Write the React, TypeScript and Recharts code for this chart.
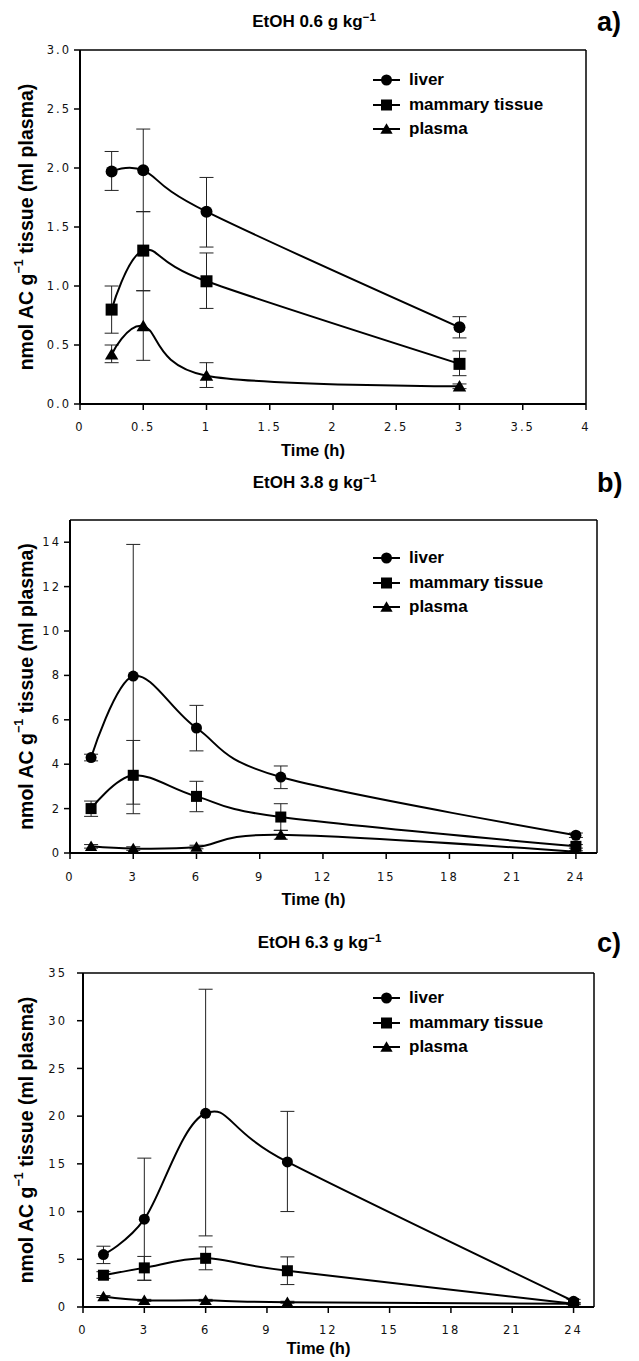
import React from 'react';
import { LineChart, Line, XAxis, YAxis, ErrorBar, ReferenceLine, Legend } from 'recharts';

// ---------- data ----------
const seriesNames = ['liver', 'mammary tissue', 'plasma'];

// Panel a) EtOH 0.6 g/kg
const timesA = [0.25, 0.5, 1, 3];
const liverA = [1.97, 1.98, 1.63, 0.65];
const liverLoA = [1.81, 1.63, 1.33, 0.56];
const liverHiA = [2.14, 2.33, 1.92, 0.74];
const mammaryA = [0.8, 1.3, 1.04, 0.34];
const mammaryLoA = [0.6, 0.96, 0.81, 0.24];
const mammaryHiA = [1.0, 1.63, 1.28, 0.45];
const plasmaA = [0.42, 0.66, 0.24, 0.15];
const plasmaLoA = [0.35, 0.37, 0.14, 0.13];
const plasmaHiA = [0.5, 0.96, 0.35, 0.17];
const xTicksA = [0, 0.5, 1, 1.5, 2, 2.5, 3, 3.5, 4];
const yTicksA = [0, 0.5, 1, 1.5, 2, 2.5, 3];

// Panel b) EtOH 3.8 g/kg
const timesB = [1, 3, 6, 10, 24];
const liverB = [4.3, 7.97, 5.63, 3.42, 0.8];
const liverLoB = [4.15, 2.2, 4.6, 2.9, 0.7];
const liverHiB = [4.45, 13.9, 6.65, 3.92, 0.9];
const mammaryB = [2.0, 3.5, 2.55, 1.62, 0.3];
const mammaryLoB = [1.65, 1.77, 1.86, 1.02, 0.22];
const mammaryHiB = [2.34, 5.07, 3.23, 2.22, 0.38];
const plasmaB = [0.3, 0.2, 0.27, 0.82, 0.06];
const plasmaLoB = [0.22, 0.12, 0.19, 0.62, 0.02];
const plasmaHiB = [0.38, 0.28, 0.35, 1.02, 0.1];
const xTicksB = [0, 3, 6, 9, 12, 15, 18, 21, 24];
const yTicksB = [0, 2, 4, 6, 8, 10, 12, 14];

// Panel c) EtOH 6.3 g/kg
const timesC = [1, 3, 6, 10, 24];
const liverC = [5.5, 9.2, 20.3, 15.2, 0.6];
const liverLoC = [4.55, 2.8, 7.45, 10.0, 0.4];
const liverHiC = [6.37, 15.6, 33.3, 20.5, 0.8];
const mammaryC = [3.33, 4.1, 5.1, 3.8, 0.35];
const mammaryLoC = [3.0, 2.8, 3.9, 2.35, 0.25];
const mammaryHiC = [3.7, 5.3, 6.3, 5.25, 0.45];
const plasmaC = [1.1, 0.7, 0.7, 0.5, 0.35];
const plasmaLoC = [1.0, 0.6, 0.6, 0.4, 0.25];
const plasmaHiC = [1.2, 0.8, 0.8, 0.6, 0.45];
const xTicksC = [0, 3, 6, 9, 12, 15, 18, 21, 24];
const yTicksC = [0, 5, 10, 15, 20, 25, 30, 35];

// ---------- helpers ----------
function buildRows(
  times: number[],
  l: number[], lLo: number[], lHi: number[],
  m: number[], mLo: number[], mHi: number[],
  p: number[], pLo: number[], pHi: number[]
) {
  return times.map((t, i) => ({
    t,
    liver: l[i],
    liverErr: [l[i] - lLo[i], lHi[i] - l[i]],
    mammary: m[i],
    mammaryErr: [m[i] - mLo[i], mHi[i] - m[i]],
    plasma: p[i],
    plasmaErr: [p[i] - pLo[i], pHi[i] - p[i]],
  }));
}

// Excel-like smoothed line (cardinal / Catmull-Rom bezier)
function smoothCurve(context: any) {
  let x0 = NaN, y0 = NaN, x1 = NaN, y1 = NaN, x2 = NaN, y2 = NaN, pt = 0;
  const k = 1 / 6;
  function seg(x: number, y: number) {
    context.bezierCurveTo(
      x1 + k * (x2 - x0), y1 + k * (y2 - y0),
      x2 + k * (x1 - x), y2 + k * (y1 - y),
      x2, y2
    );
  }
  return {
    areaStart() {},
    areaEnd() {},
    lineStart() { x0 = x1 = x2 = y0 = y1 = y2 = NaN; pt = 0; },
    lineEnd() {
      if (pt === 2) context.lineTo(x2, y2);
      else if (pt === 3) seg(x1, y1);
    },
    point(x: number, y: number) {
      x = +x; y = +y;
      if (pt === 0) { pt = 1; context.moveTo(x, y); }
      else if (pt === 1) { pt = 2; x1 = x; y1 = y; }
      else { pt = 3; seg(x, y); }
      x0 = x1; x1 = x2; x2 = x;
      y0 = y1; y1 = y2; y2 = y;
    },
  };
}

const FONT = "'Liberation Sans', Arial, Helvetica, sans-serif";
const TICK_FONT = "'DejaVu Sans', Verdana, sans-serif";

function Marker({ cx, cy, kind, size }: { cx: number; cy: number; kind: string; size: number }) {
  if (cx == null || cy == null || isNaN(cx) || isNaN(cy)) return null;
  const h = size / 2;
  if (kind === 'circle') return <circle cx={cx} cy={cy} r={h} fill="#000" />;
  if (kind === 'square') return <rect x={cx - h} y={cy - h} width={size} height={size} fill="#000" />;
  const w = h * 1.12;
  return (
    <polygon
      points={`${cx},${cy - h * 1.05} ${cx + w},${cy + h * 0.85} ${cx - w},${cy + h * 0.85}`}
      fill="#000"
    />
  );
}

const kindByKey: Record<string, string> = { liver: 'circle', mammary: 'square', plasma: 'triangle' };

function LegendBox({ payload }: any) {
  const items = payload || [];
  return (
    <div style={{ fontFamily: FONT, fontWeight: 700, fontSize: 17, color: '#000' }}>
      {items.map((it: any, i: number) => (
        <div key={i} style={{ display: 'flex', alignItems: 'center', height: 24.5 }}>
          <svg width={32} height={24} style={{ display: 'block' }}>
            <line x1={3} y1={12} x2={30} y2={12} stroke="#000" strokeWidth={2} />
            <Marker cx={16.5} cy={12} kind={kindByKey[it.dataKey] || 'circle'} size={11} />
          </svg>
          <span style={{ marginLeft: 7, lineHeight: '24px' }}>{it.value}</span>
        </div>
      ))}
    </div>
  );
}

function XLabel(props: any) {
  const vb = props.viewBox || { x: 0, y: 0, width: 0 };
  const off = props.offY ?? 47;
  return (
    <text
      x={vb.x + vb.width / 2 - 20}
      y={vb.y + off}
      textAnchor="middle"
      dominantBaseline="central"
      style={{ fontFamily: FONT, fontWeight: 700, fontSize: 16.5, fill: '#000' }}
    >
      Time (h)
    </text>
  );
}

function YLabel(props: any) {
  const vb = props.viewBox || { x: 0, y: 0, width: 0, height: 0 };
  const cx = 26;
  const cy = vb.y + vb.height / 2;
  return (
    <text
      transform={`translate(${cx},${cy}) rotate(-90)`}
      textAnchor="middle"
      dominantBaseline="central"
      style={{ fontFamily: FONT, fontWeight: 700, fontSize: 19.5, fill: '#000' }}
    >
      nmol AC g<tspan dy={-7} fontSize={12.5}>−1</tspan>
      <tspan dy={7}> tissue (ml plasma)</tspan>
    </text>
  );
}

type PanelProps = {
  top: number;
  height: number;
  plotLeft: number;
  plotRight: number;
  plotTop: number;
  plotBottom: number;
  data: any[];
  xDomain: [number, number];
  xTicks: number[];
  yDomain: [number, number];
  yTicks: number[];
  yFmt: (v: number) => string;
  xTickMargin: number;
  yTickMargin: number;
  legendTop: number;
  title: string;
  letter: string;
  titleY: number;
  markerSize: number;
  xLabelOff: number;
};

function Panel(p: PanelProps) {
  const margin = {
    top: p.plotTop,
    right: 639 - p.plotRight,
    left: 0,
    bottom: p.height - p.plotBottom - 40,
  };
  const tickStyle = { fontFamily: TICK_FONT, fontSize: 11.5, fill: '#111', letterSpacing: 2 };
  const centerX = (p.plotLeft + p.plotRight) / 2 - 19;
  const dotFn = (kind: string, pre: string) => (d: any) => (
    <Marker key={`${pre}${d.index}`} cx={d.cx} cy={d.cy} kind={kind} size={p.markerSize} />
  );
  return (
    <div style={{ position: 'absolute', left: 0, top: p.top, width: 639, height: p.height }}>
      <div
        style={{
          position: 'absolute',
          left: centerX,
          top: p.titleY - 11,
          transform: 'translateX(-50%)',
          fontFamily: FONT,
          fontWeight: 700,
          fontSize: 17,
          lineHeight: '22px',
          whiteSpace: 'nowrap',
          color: '#000',
          zIndex: 2,
        }}
      >
        {p.title}
        <span style={{ fontSize: 11.5, position: 'relative', top: -6 }}>−1</span>
      </div>
      <div
        style={{
          position: 'absolute',
          left: 597,
          top: p.titleY - 16,
          fontFamily: FONT,
          fontWeight: 700,
          fontSize: 27,
          lineHeight: '32px',
          color: '#000',
          zIndex: 2,
        }}
      >
        {p.letter}
      </div>
      <LineChart width={639} height={p.height} data={p.data} margin={margin}>
        <XAxis
          type="number"
          dataKey="t"
          domain={p.xDomain}
          ticks={p.xTicks}
          interval={0}
          allowDataOverflow
          axisLine={{ stroke: '#000', strokeWidth: 2 }}
          tickLine={{ stroke: '#000', strokeWidth: 1.5 }}
          tickSize={6}
          tickMargin={p.xTickMargin}
          tick={tickStyle}
          height={40}
          label={<XLabel offY={p.xLabelOff} />}
        />
        <YAxis
          type="number"
          domain={p.yDomain}
          ticks={p.yTicks}
          interval={0}
          allowDataOverflow
          tickFormatter={p.yFmt}
          axisLine={{ stroke: '#000', strokeWidth: 2 }}
          tickLine={{ stroke: '#000', strokeWidth: 1.5 }}
          tickSize={6}
          tickMargin={p.yTickMargin}
          tick={tickStyle}
          width={p.plotLeft}
          label={<YLabel />}
        />
        <ReferenceLine y={p.yDomain[1]} stroke="#000" strokeWidth={1.5} />
        <ReferenceLine x={p.xDomain[1]} stroke="#000" strokeWidth={1.5} />
        <Legend
          layout="vertical"
          align="center"
          verticalAlign="middle"
          wrapperStyle={{ left: 370, top: p.legendTop, width: 220, height: 76 }}
          content={(lp: any) => <LegendBox payload={lp.payload} />}
        />
        <Line
          dataKey="liver"
          name={seriesNames[0]}
          type={smoothCurve as any}
          stroke="#000"
          strokeWidth={2}
          isAnimationActive={false}
          dot={dotFn('circle', 'l')}
          activeDot={false}
        >
          <ErrorBar dataKey="liverErr" width={7} stroke="#222" strokeWidth={1} direction="y" isAnimationActive={false} />
        </Line>
        <Line
          dataKey="mammary"
          name={seriesNames[1]}
          type={smoothCurve as any}
          stroke="#000"
          strokeWidth={2}
          isAnimationActive={false}
          dot={dotFn('square', 'm')}
          activeDot={false}
        >
          <ErrorBar dataKey="mammaryErr" width={7} stroke="#222" strokeWidth={1} direction="y" isAnimationActive={false} />
        </Line>
        <Line
          dataKey="plasma"
          name={seriesNames[2]}
          type={smoothCurve as any}
          stroke="#000"
          strokeWidth={2}
          isAnimationActive={false}
          dot={dotFn('triangle', 'p')}
          activeDot={false}
        >
          <ErrorBar dataKey="plasmaErr" width={7} stroke="#222" strokeWidth={1} direction="y" isAnimationActive={false} />
        </Line>
      </LineChart>
    </div>
  );
}

const dataA = buildRows(timesA, liverA, liverLoA, liverHiA, mammaryA, mammaryLoA, mammaryHiA, plasmaA, plasmaLoA, plasmaHiA);
const dataB = buildRows(timesB, liverB, liverLoB, liverHiB, mammaryB, mammaryLoB, mammaryHiB, plasmaB, plasmaLoB, plasmaHiB);
const dataC = buildRows(timesC, liverC, liverLoC, liverHiC, mammaryC, mammaryLoC, mammaryHiC, plasmaC, plasmaLoC, plasmaHiC);

export default function App() {
  return (
    <div style={{ position: 'absolute', left: 0, top: 0, width: 639, height: 1361, background: '#fff', overflow: 'hidden' }}>
      <Panel
        top={0}
        height={460}
        plotLeft={80}
        plotRight={586}
        plotTop={50}
        plotBottom={404}
        data={dataA}
        xDomain={[0, 4]}
        xTicks={xTicksA}
        yDomain={[0, 3]}
        yTicks={yTicksA}
        yFmt={(v) => v.toFixed(1)}
        xTickMargin={13}
        yTickMargin={3}
        legendTop={68}
        title="EtOH 0.6 g kg"
        letter="a)"
        titleY={22}
        markerSize={12}
        xLabelOff={46}
      />
      <Panel
        top={460}
        height={450}
        plotLeft={70}
        plotRight={597}
        plotTop={60}
        plotBottom={393}
        data={dataB}
        xDomain={[0, 25]}
        xTicks={xTicksB}
        yDomain={[0, 15]}
        yTicks={yTicksB}
        yFmt={(v) => String(v)}
        xTickMargin={14}
        yTickMargin={3}
        legendTop={86}
        title="EtOH 3.8 g kg"
        letter="b)"
        titleY={23}
        markerSize={11}
        xLabelOff={46}
      />
      <Panel
        top={910}
        height={451}
        plotLeft={83}
        plotRight={594}
        plotTop={63}
        plotBottom={397}
        data={dataC}
        xDomain={[0, 25]}
        xTicks={xTicksC}
        yDomain={[0, 35]}
        yTicks={yTicksC}
        yFmt={(v) => String(v)}
        xTickMargin={13}
        yTickMargin={10}
        legendTop={76}
        title="EtOH 6.3 g kg"
        letter="c)"
        titleY={33}
        markerSize={11}
        xLabelOff={41}
      />
    </div>
  );
}
